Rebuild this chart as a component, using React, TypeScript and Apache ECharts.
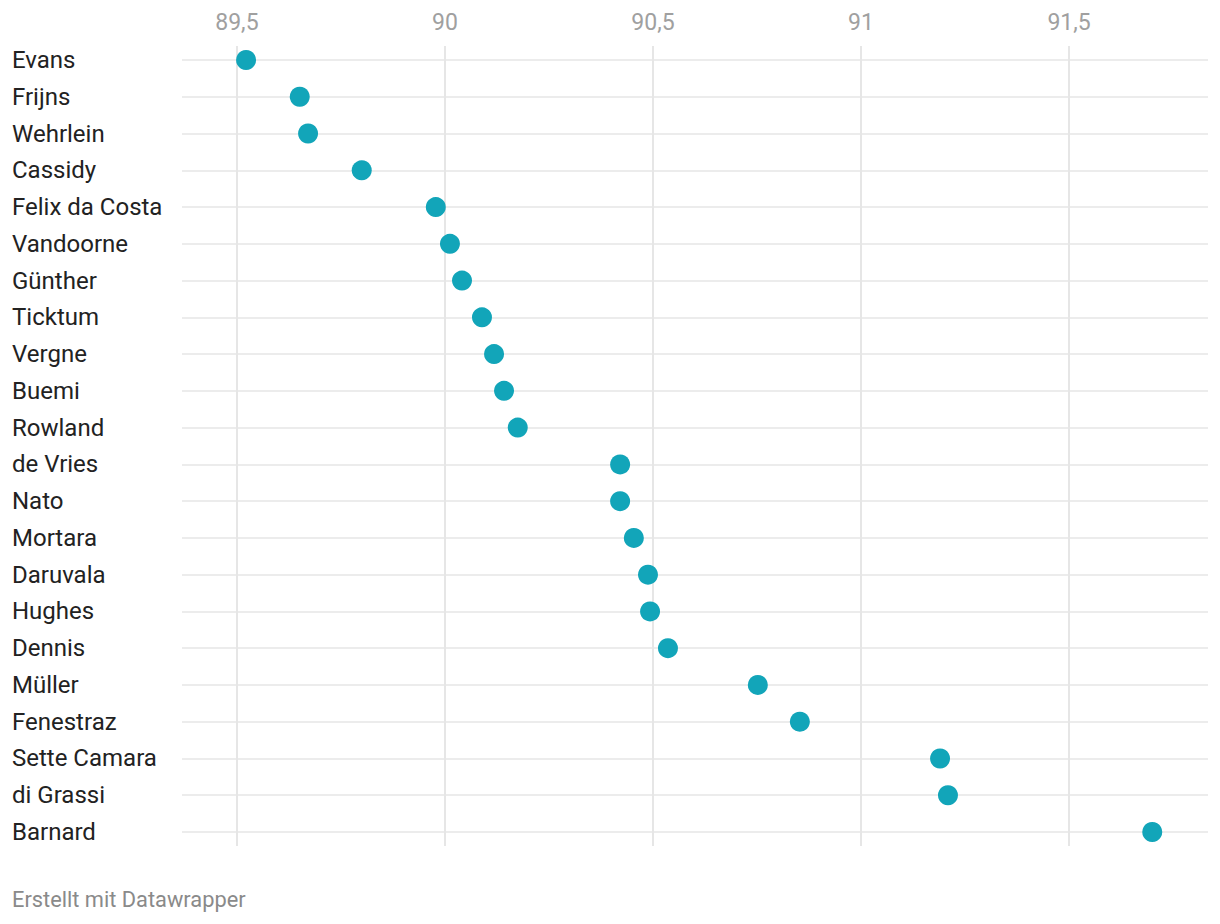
import React, { useEffect, useRef } from "react";
import * as echarts from "echarts";

const drivers = [
  "Evans", "Frijns", "Wehrlein", "Cassidy", "Felix da Costa", "Vandoorne",
  "Günther", "Ticktum", "Vergne", "Buemi", "Rowland", "de Vries", "Nato",
  "Mortara", "Daruvala", "Hughes", "Dennis", "Müller", "Fenestraz",
  "Sette Camara", "di Grassi", "Barnard",
];
const lapTimes = [
  89.522, 89.651, 89.671, 89.8, 89.978, 90.012, 90.041, 90.089, 90.118,
  90.142, 90.175, 90.421, 90.421, 90.454, 90.488, 90.493, 90.536, 90.752,
  90.853, 91.19, 91.209, 91.7,
];
const xTicks = [89.5, 90, 90.5, 91, 91.5];
const footer = "Erstellt mit Datawrapper";

const X_MIN = 89.368;
const X_MAX = 91.834;

export default function App() {
  const ref = useRef<HTMLDivElement>(null);
  useEffect(() => {
    document.body.style.margin = "0";
    const chart = echarts.init(ref.current!, null, { renderer: "svg" });
    chart.setOption({
      animation: false,
      textStyle: { fontFamily: "Roboto" },
      grid: [
        { left: 182, right: 12, top: 46, bottom: 78 },
        { left: 182, right: 12, top: 60, bottom: 92 },
      ],
      xAxis: [
        {
          gridIndex: 0,
          type: "value",
          position: "top",
          min: X_MIN,
          max: X_MAX,
          axisLine: { show: false },
          axisTick: { show: false, customValues: xTicks },
          axisLabel: {
            customValues: xTicks,
            color: "#a0a0a0",
            fontSize: 23,
            margin: 12,
            formatter: (v: number) => String(v).replace(".", ","),
          },
          splitLine: { show: true, lineStyle: { color: "#e6e6e6", width: 2 } },
        },
        {
          gridIndex: 1,
          type: "value",
          min: X_MIN,
          max: X_MAX,
          show: false,
          splitLine: { show: false },
        },
      ],
      yAxis: [
        {
          gridIndex: 0,
          type: "value",
          show: false,
          splitLine: { show: false },
        },
        {
          gridIndex: 1,
          type: "category",
          data: drivers,
          inverse: true,
          boundaryGap: false,
          axisLine: { show: false },
          axisTick: { show: false },
          axisLabel: {
            align: "left",
            margin: 170,
            fontSize: 24,
            color: "#222222",
            interval: 0,
          },
          splitLine: { show: true, interval: 0, lineStyle: { color: "#e6e6e6", width: 1.5 } },
        },
      ],
      series: [
        {
          type: "scatter",
          xAxisIndex: 1,
          yAxisIndex: 1,
          symbol: "circle",
          symbolSize: 20,
          itemStyle: { color: "#12a5b9", opacity: 1 },
          data: lapTimes.map((v, i) => [v, drivers[i]]),
        },
      ],
      graphic: [
        {
          type: "text",
          left: 12,
          top: 888,
          style: { text: footer, fill: "#8a8a8a", fontSize: 21.8, fontFamily: "Roboto" },
        },
      ],
    });
    return () => chart.dispose();
  }, []);
  return <div ref={ref} style={{ width: 1220, height: 924 }} />;
}
